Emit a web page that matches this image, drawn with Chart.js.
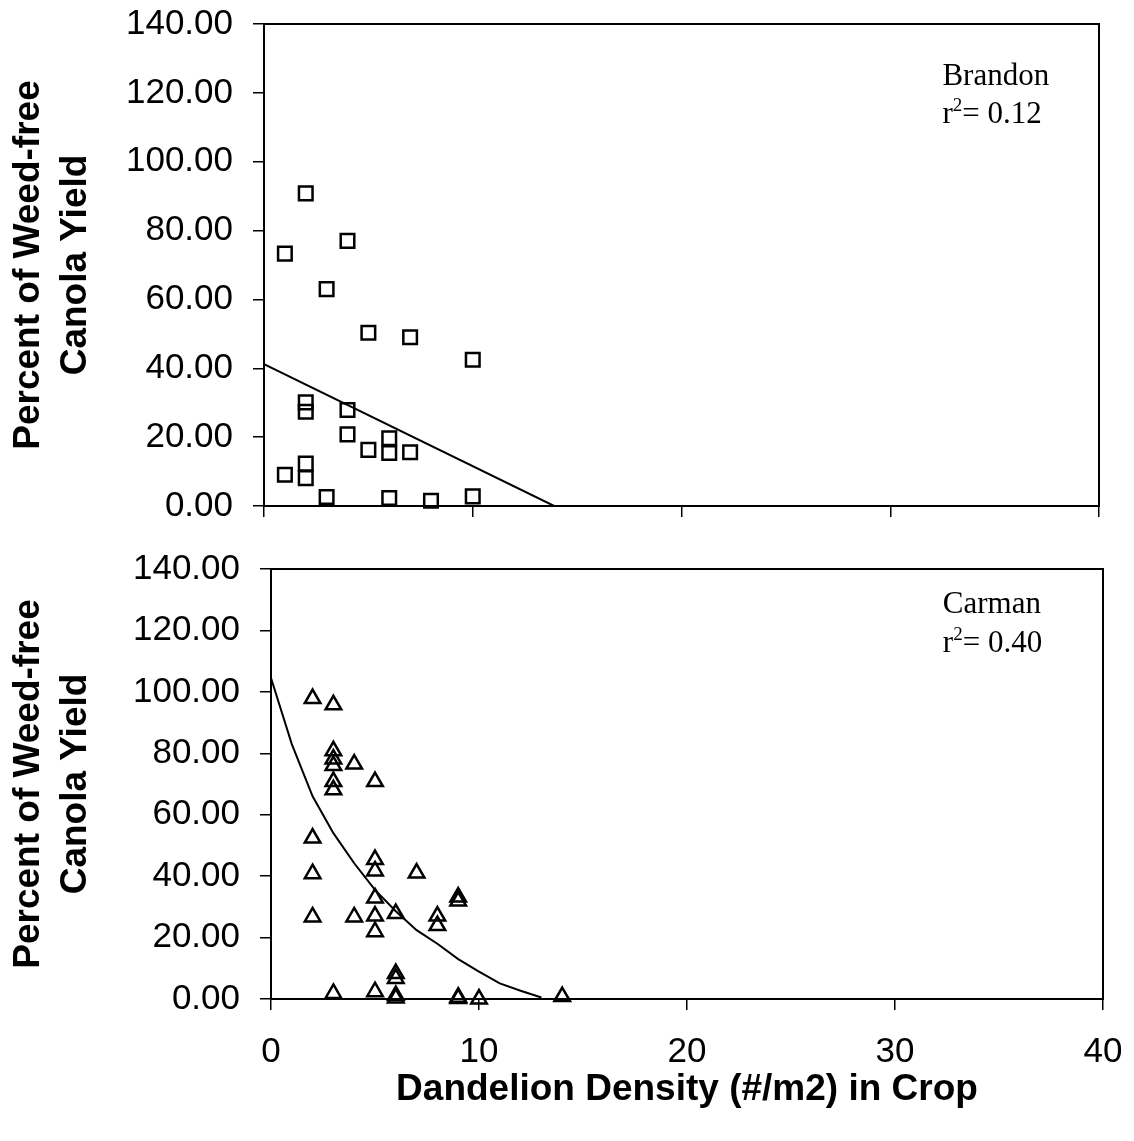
<!DOCTYPE html>
<html>
<head>
<meta charset="utf-8">
<script src="https://cdn.jsdelivr.net/npm/chart.js@4/dist/chart.umd.min.js"></script>
<style>
  body { margin: 0; background: #fff; }
  #wrap { position: relative; width: 1134px; height: 1141px; }
  canvas { position: absolute; left: 0; }
  #chart-brandon { top: 0; }
  #chart-carman { top: 540px; }
</style>
</head>
<body>
<div id="wrap">
  <canvas id="chart-brandon" width="1134" height="540"></canvas>
  <canvas id="chart-carman" width="1134" height="601"></canvas>
</div>
<script>
// Brandon: dandelion density vs percent of weed-free canola yield
const brandon_x = [2, 1, 4, 3, 5, 7, 10, 2, 2, 4, 4, 5, 6, 6, 7, 1, 2, 2, 3, 6, 8, 10];
const brandon_y = [90.8, 73.3, 77.0, 63.0, 50.3, 49.0, 42.5, 30.1, 27.4, 27.9, 20.8, 16.3, 19.7, 15.4, 15.6, 9.1, 12.3, 8.1, 2.6, 2.3, 1.5, 2.8];
// Brandon fitted line (end points)
const brandon_fit_x = [0, 13.9];
const brandon_fit_y = [41.2, 0];

// Carman
const carman_x = [2, 2, 2, 2, 3, 3, 3, 3, 3, 3, 3, 4, 4, 5, 5, 5, 5, 5, 5, 5, 6, 6, 6, 6, 6, 7, 8, 8, 9, 9, 9, 9, 10, 14];
const carman_y = [97.8, 52.4, 40.8, 26.7, 95.8, 80.8, 78.1, 76.0, 70.8, 68.1, 1.8, 76.5, 26.7, 70.8, 45.4, 41.7, 32.9, 27.0, 21.9, 2.4, 27.8, 8.3, 6.7, 1.1, 0.3, 41.0, 27.0, 23.9, 33.2, 31.9, 0.6, 0.2, 0, 0.8];
// Carman fitted curve (read at each whole density)
const carman_fit_x = [0, 1, 2, 3, 4, 5, 6, 7, 8, 9, 10, 11, 12, 13];
const carman_fit_y = [104.5, 83, 66, 54, 44.2, 35.5, 28.6, 22.4, 18, 13, 8.9, 5.1, 2.7, 0.5];

const x_ticks = [0, 10, 20, 30, 40];
const y_ticks = [0, 20, 40, 60, 80, 100, 120, 140];

Chart.defaults.font.family = "'Liberation Sans', Arial, sans-serif";
Chart.defaults.color = "#000";

const toPoints = (xs, ys) => xs.map((x, i) => ({ x: x, y: ys[i] }));

// box around the plot area
const framePlugin = {
  id: "frame",
  afterDatasetsDraw(chart) {
    const { ctx, chartArea: a } = chart;
    ctx.save();
    ctx.strokeStyle = "#000";
    ctx.lineWidth = 2;
    ctx.strokeRect(a.left, a.top, a.right - a.left, a.bottom - a.top);
    ctx.restore();
  },
};

// site name and r squared text, placed in data units
const sitePlugin = {
  id: "site",
  afterDraw(chart, args, opts) {
    if (!opts.name) return;
    const { ctx, scales } = chart;
    const x = scales.x.getPixelForValue(opts.at[0]);
    const y1 = scales.y.getPixelForValue(opts.at[1]);
    const y2 = scales.y.getPixelForValue(opts.at[2]);
    ctx.save();
    ctx.fillStyle = "#000";
    ctx.textBaseline = "alphabetic";
    ctx.textAlign = "left";
    ctx.font = "31px 'Liberation Serif', 'Times New Roman', serif";
    ctx.fillText(opts.name, x, y1);
    ctx.fillText("r", x, y2);
    const w_r = ctx.measureText("r").width;
    ctx.font = "19px 'Liberation Serif', 'Times New Roman', serif";
    ctx.fillText("2", x + w_r, y2 - 12);
    const w_2 = ctx.measureText("2").width;
    ctx.font = "31px 'Liberation Serif', 'Times New Roman', serif";
    ctx.fillText("= " + opts.r2, x + w_r + w_2, y2);
    ctx.restore();
  },
};

function makeChart(id, cfg) {
  const ctx = document.getElementById(id).getContext("2d");
  return new Chart(ctx, {
    type: "scatter",
    data: {
      datasets: [
        {
          type: "line",
          data: toPoints(cfg.fit_x, cfg.fit_y),
          borderColor: "#000",
          borderWidth: 2,
          pointRadius: 0,
          tension: 0,
          fill: false,
        },
        {
          data: toPoints(cfg.xs, cfg.ys),
          pointStyle: cfg.marker,
          pointRadius: cfg.marker === "rect" ? 9.6 : 9,
          borderColor: "#000",
          backgroundColor: "rgba(0,0,0,0)",
          borderWidth: 2.5,
          clip: false,
        },
      ],
    },
    options: {
      responsive: false,
      animation: false,
      devicePixelRatio: 1,
      layout: { padding: { top: cfg.pad_top, right: cfg.pad_right, left: 0, bottom: 0 } },
      plugins: {
        legend: { display: false },
        tooltip: { enabled: false },
        site: { name: cfg.site, r2: cfg.r2, at: cfg.label_at },
      },
      scales: {
        x: {
          type: "linear",
          min: 0,
          max: 40,
          afterBuildTicks: (s) => { s.ticks = x_ticks.map((v) => ({ value: v })); },
          afterFit: (s) => {
            s.height = cfg.x_height;
            s.paddingLeft = 0;
            s.paddingRight = 0;
          },
          ticks: {
            display: cfg.show_x_labels,
            font: { size: 35 },
            padding: 21,
            maxRotation: 0,
          },
          grid: { drawOnChartArea: false, drawTicks: true, tickLength: 11, color: "#000", lineWidth: 1.5 },
          border: { display: true, color: "#000", width: 2 },
          title: {
            display: cfg.show_x_labels,
            text: "Dandelion Density (#/m2) in Crop",
            font: { size: 37, weight: "bold", lineHeight: 1.25 },
            padding: { top: 0, bottom: 28 },
          },
        },
        y: {
          type: "linear",
          min: 0,
          max: 140,
          afterBuildTicks: (s) => { s.ticks = y_ticks.map((v) => ({ value: v })); },
          afterFit: (s) => {
            s.width = cfg.y_width;
            s.paddingTop = 0;
            s.paddingBottom = 0;
          },
          ticks: {
            font: { size: 35 },
            padding: 20,
            callback: (v) => Number(v).toFixed(2),
          },
          grid: { drawOnChartArea: false, drawTicks: true, tickLength: 11, color: "#000", lineWidth: 1.5 },
          border: { display: true, color: "#000", width: 2 },
          title: {
            display: true,
            text: ["Percent of Weed-free", "Canola Yield"],
            font: { size: 37, weight: "bold", lineHeight: 1.25 },
            padding: { top: 6, bottom: 0 },
          },
        },
      },
    },
    plugins: [framePlugin, sitePlugin],
  });
}

makeChart("chart-brandon", {
  xs: brandon_x, ys: brandon_y,
  fit_x: brandon_fit_x, fit_y: brandon_fit_y,
  marker: "rect",
  site: "Brandon", r2: "0.12", label_at: [32.5, 122.3, 111.2],
  pad_top: 24, pad_right: 35, y_width: 264, x_height: 34,
  show_x_labels: false,
});

makeChart("chart-carman", {
  xs: carman_x, ys: carman_y,
  fit_x: carman_fit_x, fit_y: carman_fit_y,
  marker: "triangle",
  site: "Carman", r2: "0.40", label_at: [32.3, 125.7, 113],
  pad_top: 29, pad_right: 31, y_width: 271, x_height: 142,
  show_x_labels: true,
});
</script>
</body>
</html>
